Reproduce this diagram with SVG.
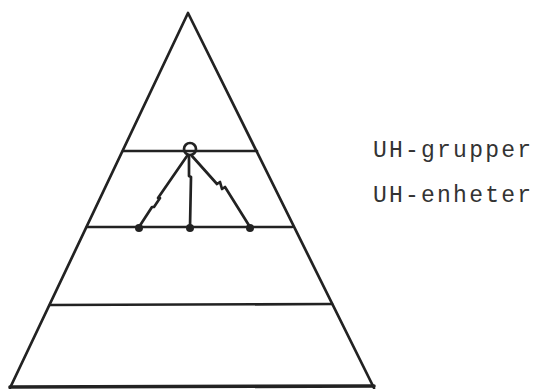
<svg xmlns="http://www.w3.org/2000/svg" width="533" height="389" viewBox="0 0 533 389">
<style>
.ln{stroke:#222;stroke-width:2.7;fill:none;stroke-linecap:round;stroke-linejoin:round}
.dot{fill:#222}
.lbl{font-family:"Liberation Mono","DejaVu Sans Mono",monospace;font-size:23px;fill:#333}
</style>
<rect width="533" height="389" fill="#fff"/>
<g id="pyramid">
<polyline class="ln" points="10,388 188,13 374,388"/>
<line class="ln" x1="123" y1="151" x2="257" y2="151"/>
<line class="ln" x1="87" y1="227" x2="292" y2="227"/>
<line class="ln" x1="50" y1="305" x2="332" y2="304"/>
<line class="ln" x1="10" y1="387" x2="374" y2="386" style="stroke-width:3.6"/>
</g>
<g id="uh-gruppe">
<circle class="ln" cx="190" cy="149" r="6"/>
</g>
<g id="uh-enhet-1"><circle class="dot" cx="139" cy="228" r="4"/></g>
<g id="uh-enhet-2"><circle class="dot" cx="190" cy="228" r="4"/></g>
<g id="uh-enhet-3"><circle class="dot" cx="250" cy="228" r="4"/></g>
<g id="connectors">
<polyline class="ln" points="187,156 158,198 160,198 154,207 152,207 139,227"/>
<polyline class="ln" points="189,156 189,176 191,177 190,227"/>
<polyline class="ln" points="192,156 217,184 220,182 222,189 225,187 250,227"/>
</g>
<g id="labels">
<text class="lbl" x="373" y="157" textLength="158" lengthAdjust="spacing">UH-grupper</text>
<text class="lbl" x="373" y="202" textLength="158" lengthAdjust="spacing">UH-enheter</text>
</g>
</svg>
